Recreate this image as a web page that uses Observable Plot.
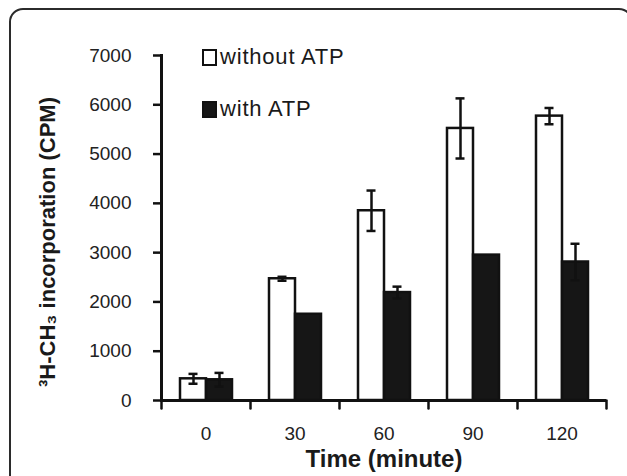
<!DOCTYPE html>
<html>
<head>
<meta charset="utf-8">
<script src="https://cdn.jsdelivr.net/npm/d3@7"></script>
<script src="https://cdn.jsdelivr.net/npm/@observablehq/plot@0.6"></script>
<style>
  html, body { margin: 0; padding: 0; background: #fff; width: 627px; height: 476px; overflow: hidden; }
  #frame { position: absolute; left: 9px; top: 8px; width: 624px; height: 520px; border: 2px solid #2b2b2b; border-radius: 14px; box-sizing: border-box; }
  #chart { position: absolute; left: 0; top: 0; }
  #legend { position: absolute; left: 202px; top: 47px; font-family: "Liberation Sans", Arial, sans-serif; font-size: 22px; letter-spacing: 0.8px; color: #1a1a1a; }
  .row { display: flex; align-items: center; height: 20px; margin-bottom: 32px; }
  .sw { width: 15px; height: 17px; box-sizing: border-box; border: 2.5px solid #111; margin-right: 3px; }
</style>
</head>
<body>
<div id="frame"></div>
<div id="chart"></div>
<div id="legend"></div>
<script>
// ---- data ----
const times = ["0", "30", "60", "90", "120"];
const series = ["without ATP", "with ATP"];
const seriesColors = ["#ffffff", "#161616"];
const withoutATP    = [440, 2470, 3850, 5520, 5770];
const withoutATPErr = [100,   40,  410,  610,  165];
const withATP       = [420, 1750, 2190, 2950, 2810];
const withATPErr    = [140,    0,  120,    0,  370];
const yTicks = [0, 1000, 2000, 3000, 4000, 5000, 6000, 7000];
const xTitle = "Time (minute)";
const yTitle = "\u00B3H-CH\u2083 incorporation (CPM)";

// ---- table ----
const rows = times.flatMap((t, i) => [
  {time: t, series: series[0], value: withoutATP[i], err: withoutATPErr[i]},
  {time: t, series: series[1], value: withATP[i], err: withATPErr[i]}
]);
const errRows = rows.filter(d => d.err > 0);

const tickShape = {draw(ctx, l) { ctx.moveTo(0, 0); ctx.lineTo(0, -l); }};
const ink = "#111";

const plot = Plot.plot({
  width: 627, height: 476,
  marginLeft: 160, marginRight: 20, marginTop: 55, marginBottom: 76,
  style: {fontFamily: "'Liberation Sans', Arial, sans-serif", background: "transparent", color: "#222", overflow: "visible"},
  fx: {domain: times, padding: 0, axis: null, label: null},
  x: {domain: series, paddingInner: 0, paddingOuter: 0.655, axis: null},
  y: {domain: [0, 7000], axis: null},
  color: {domain: series, range: seriesColors},
  marks: [
    Plot.barY(rows, {fx: "time", x: "series", y: "value", fill: "series", stroke: ink, strokeWidth: 2.5}),
    Plot.ruleX(errRows, {fx: "time", x: "series", y1: d => d.value - d.err, y2: d => d.value + d.err, stroke: ink, strokeWidth: 2.5}),
    Plot.tickY(errRows, {fx: "time", x: "series", y: d => d.value - d.err, insetLeft: 8.5, insetRight: 8.5, stroke: ink, strokeWidth: 2.5}),
    Plot.tickY(errRows, {fx: "time", x: "series", y: d => d.value + d.err, insetLeft: 8.5, insetRight: 8.5, stroke: ink, strokeWidth: 2.5}),
    Plot.ruleY([0], {stroke: ink, strokeWidth: 3}),
    Plot.frame({anchor: "left", facetAnchor: "left", stroke: ink, strokeWidth: 3}),
    Plot.axisY({ticks: yTicks, tickSize: 8, tickPadding: 22, fontSize: 19, stroke: ink, strokeWidth: 2.5, label: null, tickFormat: d => String(d)}),
    Plot.vector(times, {fx: d => d, frameAnchor: "bottom-left", length: 8, rotate: 180, anchor: "start", shape: tickShape, stroke: ink, strokeWidth: 2.5}),
    Plot.vector([times[times.length - 1]], {fx: d => d, frameAnchor: "bottom-right", length: 8, rotate: 180, anchor: "start", shape: tickShape, stroke: ink, strokeWidth: 2.5}),
    Plot.axisFx({anchor: "bottom", tickSize: 0, tickPadding: 26, fontSize: 19, label: null}),
    Plot.text([xTitle], {fx: () => times[Math.floor(times.length / 2)], frameAnchor: "bottom", dy: 66, fontSize: 24, fontWeight: "bold", fill: "#1a1a1a"}),
    Plot.text([yTitle], {fx: () => times[0], frameAnchor: "left", textAnchor: "middle", dx: -114, dy: 14, rotate: -90, fontSize: 22, fontWeight: "bold", fill: "#1a1a1a"})
  ]
});
document.getElementById("chart").appendChild(plot);

// ---- legend ----
const legend = document.getElementById("legend");
series.forEach((s, i) => {
  const row = document.createElement("div");
  row.className = "row";
  const sw = document.createElement("div");
  sw.className = "sw";
  sw.style.background = seriesColors[i];
  const label = document.createElement("span");
  label.textContent = s;
  row.appendChild(sw);
  row.appendChild(label);
  legend.appendChild(row);
});
</script>
</body>
</html>
